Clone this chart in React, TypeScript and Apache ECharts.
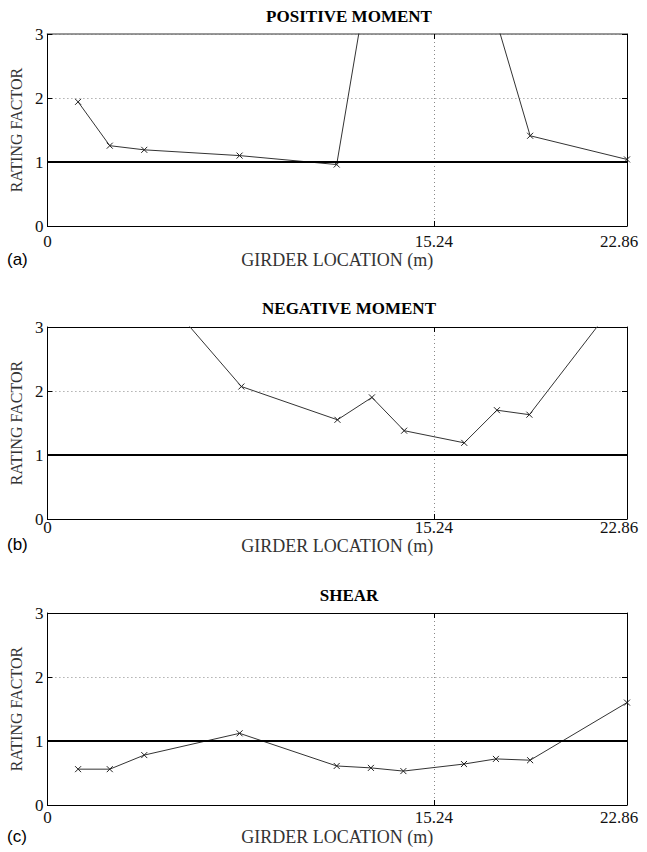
import React, { useEffect, useRef } from "react";
import * as echarts from "echarts";

// ---- data (girder location in m, rating factor) ----
const X_MAX = 22.86;
const X_TICK_STEP = 15.24;
const Y_MIN = 0;
const Y_MAX = 3;
const Y_STEP = 1;
const REF_RF = 1;

const TITLES = ["POSITIVE MOMENT", "NEGATIVE MOMENT", "SHEAR"];
const PANEL_TAGS = ["(a)", "(b)", "(c)"];
const X_NAME = "GIRDER LOCATION (m)";
const Y_NAME = "RATING FACTOR";

const POS_X = [1.21, 2.46, 3.82, 7.58, 11.41, 12.76, 14.04, 16.43, 17.69, 19.04, 22.86];
const POS_RF = [1.94, 1.255, 1.19, 1.1, 0.96, 4.13, 5.0, 5.0, 3.23, 1.41, 1.04];

const NEG_X = [3.82, 7.65, 11.44, 12.8, 14.07, 16.44, 17.73, 19.01, 22.86];
const NEG_RF = [3.83, 2.07, 1.55, 1.9, 1.38, 1.19, 1.7, 1.63, 3.61];

const SHEAR_X = [1.21, 2.46, 3.82, 7.58, 11.41, 12.76, 14.04, 16.43, 17.69, 19.04, 22.86];
const SHEAR_RF = [0.56, 0.56, 0.78, 1.12, 0.61, 0.58, 0.53, 0.64, 0.72, 0.7, 1.6];

const SERIES_X = [POS_X, NEG_X, SHEAR_X];
const SERIES_Y = [POS_RF, NEG_RF, SHEAR_RF];

// ---- layout ----
const GRID_LEFT = 47;
const GRID_WIDTH = 580;
const GRID_HEIGHT = 192;
const GRID_TOPS = [34, 327, 613];
const TITLE_TOPS = [8, 300, 587];
const X_LABEL_MARGINS = [7, 0, 4];
const X_NAME_GAPS = [21, 12, 23];
const TAG_TOPS = [251, 536, 828];

const SERIF = "'Liberation Serif', 'Times New Roman', serif";
const SANS = "'Liberation Sans', Arial, sans-serif";

function buildOption() {
  const grid: any[] = [];
  const xAxis: any[] = [];
  const yAxis: any[] = [];
  const series: any[] = [];
  const title: any[] = [];
  const graphic: any[] = [];

  for (let i = 0; i < 3; i++) {
    grid.push({
      left: GRID_LEFT,
      top: GRID_TOPS[i],
      width: GRID_WIDTH,
      height: GRID_HEIGHT,
      containLabel: false,
    });
    title.push({
      text: TITLES[i],
      left: 349,
      textAlign: "center",
      top: TITLE_TOPS[i],
      padding: 0,
      textStyle: { fontFamily: SERIF, fontWeight: "bold", fontSize: 17, color: "#000" },
    });
    graphic.push({
      type: "text",
      left: 7,
      top: TAG_TOPS[i],
      style: { text: PANEL_TAGS[i], font: `17px ${SANS}`, fill: "#000" },
    });

    const frameColor = "#000";
    xAxis.push({
      type: "value",
      gridIndex: i,
      position: "bottom",
      min: 0,
      max: X_MAX,
      interval: X_TICK_STEP,
      axisLine: { show: true, onZero: false, lineStyle: { color: frameColor, width: 1 } },
      axisTick: { show: true, inside: true, length: 5, lineStyle: { color: "#000" } },
      axisLabel: {
        margin: X_LABEL_MARGINS[i],
        fontFamily: SERIF,
        fontSize: 17,
        color: "#111",
        formatter: (v: number) =>
          v === 0 ? "0" : v >= X_MAX ? "{end|" + v.toFixed(2) + "}" : v.toFixed(2),
        rich: {
          end: { fontFamily: SERIF, fontSize: 17, color: "#111", padding: [0, 16, 0, 0] },
        },
      },
      splitLine: { show: true, lineStyle: { type: [1, 3], color: "#888", width: 1 } },
      name: X_NAME,
      nameLocation: "middle",
      nameGap: X_NAME_GAPS[i],
      nameTextStyle: { fontFamily: SERIF, fontSize: 18, color: "#333" },
    });
    xAxis.push({
      type: "value",
      gridIndex: i,
      position: "top",
      min: 0,
      max: X_MAX,
      interval: X_TICK_STEP,
      axisLine: {
        show: true,
        onZero: false,
        lineStyle: { color: i === 0 ? "#777" : frameColor, width: i === 0 ? 1.5 : 1 },
      },
      axisTick: { show: true, inside: true, length: 5, lineStyle: { color: "#000" } },
      axisLabel: { show: false },
      splitLine: { show: false },
    });
    yAxis.push({
      type: "value",
      gridIndex: i,
      position: "left",
      min: Y_MIN,
      max: Y_MAX,
      interval: Y_STEP,
      axisLine: { show: true, onZero: false, lineStyle: { color: frameColor, width: 1 } },
      axisTick: { show: true, inside: true, length: 5, lineStyle: { color: "#000" } },
      axisLabel: { margin: 4, fontFamily: SERIF, fontSize: 17, color: "#111" },
      splitLine: { show: true, lineStyle: { type: [1, 3], color: "#888", width: 1 } },
      name: Y_NAME,
      nameLocation: "middle",
      nameGap: 23,
      nameTextStyle: { fontFamily: SERIF, fontSize: 16, color: "#333" },
    });
    yAxis.push({
      type: "value",
      gridIndex: i,
      position: "right",
      min: Y_MIN,
      max: Y_MAX,
      interval: Y_STEP,
      axisLine: { show: true, onZero: false, lineStyle: { color: frameColor, width: 1 } },
      axisTick: { show: true, inside: true, length: 5, lineStyle: { color: "#000" } },
      axisLabel: { show: false },
      splitLine: { show: false },
    });

    const xs = SERIES_X[i];
    const ys = SERIES_Y[i];
    series.push({
      type: "line",
      xAxisIndex: i * 2,
      yAxisIndex: i * 2,
      data: xs.map((x, k) => [x, ys[k]]),
      clip: true,
      symbol: "path://M0,0L10,10M10,0L0,10",
      symbolSize: 6,
      showSymbol: true,
      itemStyle: { color: "transparent", borderColor: "#222", borderWidth: 1 },
      lineStyle: { color: "#333", width: 1 },
      markLine: {
        silent: true,
        symbol: "none",
        label: { show: false },
        lineStyle: { color: "#000", width: 2, type: "solid" },
        data: [{ yAxis: REF_RF }],
      },
      z: 3,
    });
  }

  return {
    animation: false,
    backgroundColor: "#fff",
    title,
    grid,
    xAxis,
    yAxis,
    series,
    graphic,
  };
}

export default function App() {
  const ref = useRef<HTMLDivElement>(null);
  useEffect(() => {
    if (!ref.current) return;
    const chart = echarts.init(ref.current, undefined, { renderer: "svg" });
    chart.setOption(buildOption() as any);
    return () => chart.dispose();
  }, []);
  return (
    <div
      ref={ref}
      style={{ position: "absolute", left: 0, top: 0, width: 647, height: 852, background: "#fff" }}
    />
  );
}
